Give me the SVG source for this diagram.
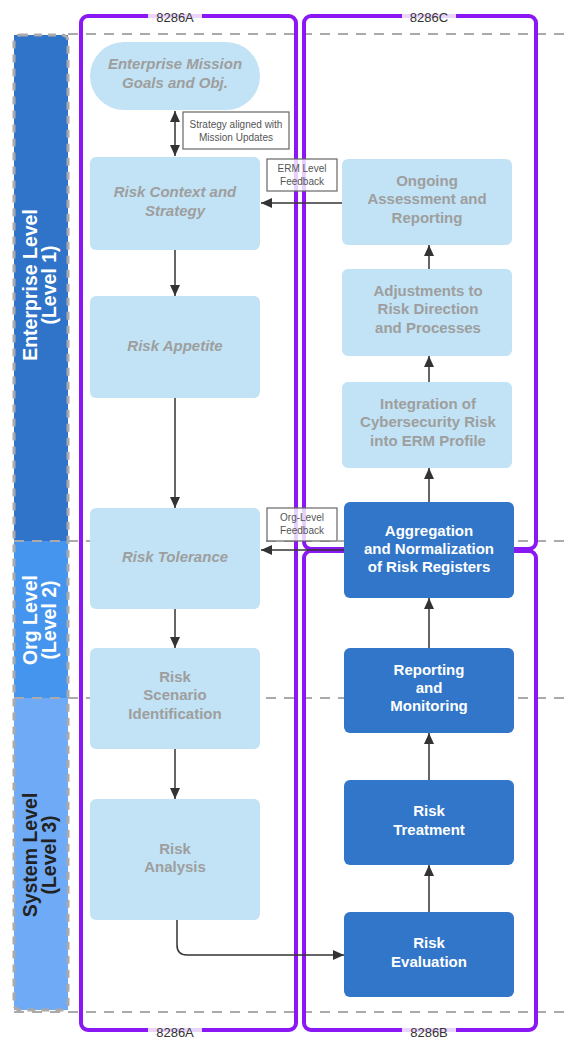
<svg xmlns="http://www.w3.org/2000/svg" width="566" height="1040" viewBox="0 0 566 1040">
<style>
text{font-family:"Liberation Sans",Arial,sans-serif}
.lt{fill:#c1e3f5}
.dk{fill:#3176c8}
.gt{fill:#9e9e9e;font-size:15px;font-weight:bold;text-anchor:middle}
.it{font-style:italic}
.wt{fill:#ffffff;font-size:15px;font-weight:bold;text-anchor:middle}
.lbl{fill:#555;font-size:10px;text-anchor:middle}
.lblbox{fill:#fff;fill-opacity:0.8;stroke:#666;stroke-width:1.2}
.cont{fill:none;stroke:#8a18f5;stroke-width:4}
.ctag{fill:#fff;fill-opacity:0.82}
.ctxt{fill:#333;font-size:13px;text-anchor:middle}
.sep{stroke:#aaa;stroke-width:2;stroke-dasharray:10,8;fill:none}
.edge{stroke:#333;stroke-width:1.5;fill:none}
.lvl{font-size:19.5px;font-weight:bold;text-anchor:middle}
</style>
<defs>
<marker id="ah" viewBox="0 0 10 10" refX="10" refY="5" markerWidth="11" markerHeight="10" orient="auto-start-reverse" markerUnits="userSpaceOnUse" preserveAspectRatio="none">
<path d="M0,0 L10,5 L0,10 z" fill="#333"/>
</marker>
</defs>
<g id="levels">
<rect x="14" y="35" width="54" height="506" fill="#2f74c8"/>
<rect x="14" y="541" width="54" height="157" fill="#4595ef"/>
<rect x="14" y="698" width="54" height="312" fill="#6eaaf6"/>
<rect x="14" y="35" width="54" height="975" rx="6" fill="none" stroke="#aaa" stroke-width="3" stroke-dasharray="8,6"/>
<path class="sep" d="M68 34 H566 M14 541 H566 M14 698 H566 M14 1012 H566"/>
<text class="lvl" fill="#fff" transform="translate(40,285) rotate(-90)"><tspan x="0" y="-3">Enterprise Level</tspan><tspan x="0" y="16">(Level 1)</tspan></text>
<text class="lvl" fill="#fff" transform="translate(40,620) rotate(-90)"><tspan x="0" y="-3">Org Level</tspan><tspan x="0" y="16">(Level 2)</tspan></text>
<text class="lvl" fill="#222" transform="translate(40,855) rotate(-90)"><tspan x="0" y="-3">System Level</tspan><tspan x="0" y="16">(Level 3)</tspan></text>
</g>
<g id="containers">
<rect class="cont" x="81" y="16" width="215" height="1014" rx="7"/>
<rect class="cont" x="304" y="16" width="232" height="533" rx="7"/>
<rect class="cont" x="304" y="551" width="232" height="479" rx="7"/>
<rect class="ctag" x="148" y="8" width="54" height="17" rx="3"/><text class="ctxt" x="175" y="22">8286A</text>
<rect class="ctag" x="402" y="8" width="54" height="17" rx="3"/><text class="ctxt" x="429" y="22">8286C</text>
<rect class="ctag" x="148" y="1024" width="54" height="17" rx="3"/><text class="ctxt" x="175" y="1037">8286A</text>
<rect class="ctag" x="402" y="1024" width="54" height="17" rx="3"/><text class="ctxt" x="429" y="1037">8286B</text>
</g>
<g id="connectors">
<path class="edge" d="M175 111 V156" marker-start="url(#ah)" marker-end="url(#ah)"/>
<path class="edge" d="M175 250 V296" marker-end="url(#ah)"/>
<path class="edge" d="M175 398 V508" marker-end="url(#ah)"/>
<path class="edge" d="M175 609 V648" marker-end="url(#ah)"/>
<path class="edge" d="M175 749 V799" marker-end="url(#ah)"/>
<path class="edge" d="M177 920 V945 Q177 955 187 955 H344" marker-end="url(#ah)"/>
<path class="edge" d="M429 912 V865" marker-end="url(#ah)"/>
<path class="edge" d="M429 780 V733" marker-end="url(#ah)"/>
<path class="edge" d="M429 648 V598" marker-end="url(#ah)"/>
<path class="edge" d="M429 502 V468" marker-end="url(#ah)"/>
<path class="edge" d="M429 382 V356" marker-end="url(#ah)"/>
<path class="edge" d="M429 269 V245" marker-end="url(#ah)"/>
<path class="edge" d="M342 203 H261" marker-end="url(#ah)"/>
<path class="edge" d="M344 550 H261" marker-end="url(#ah)"/>
<rect class="lblbox" x="183" y="112" width="106" height="37"/>
<text class="lbl"><tspan x="236" y="128">Strategy aligned with</tspan><tspan x="236" y="141">Mission Updates</tspan></text>
<rect class="lblbox" x="267" y="159" width="70" height="32"/>
<text class="lbl"><tspan x="302" y="172">ERM Level</tspan><tspan x="302" y="185">Feedback</tspan></text>
<rect class="lblbox" x="267" y="508" width="70" height="33"/>
<text class="lbl"><tspan x="302" y="521">Org-Level</tspan><tspan x="302" y="534">Feedback</tspan></text>
</g>
<g id="n-mission"><rect class="lt" x="90" y="42" width="170" height="68" rx="34"/><text class="gt it"><tspan x="175" y="69">Enterprise Mission</tspan><tspan x="175" y="88">Goals and Obj.</tspan></text></g>
<g id="n-context"><rect class="lt" x="90" y="157" width="170" height="93" rx="6"/><text class="gt it"><tspan x="175" y="197">Risk Context and</tspan><tspan x="175" y="216">Strategy</tspan></text></g>
<g id="n-appetite"><rect class="lt" x="90" y="296" width="170" height="102" rx="6"/><text class="gt it" x="175" y="351">Risk Appetite</text></g>
<g id="n-tolerance"><rect class="lt" x="90" y="508" width="170" height="101" rx="6"/><text class="gt it" x="175" y="562">Risk Tolerance</text></g>
<g id="n-scenario"><rect class="lt" x="90" y="648" width="170" height="101" rx="6"/><text class="gt"><tspan x="175" y="682">Risk</tspan><tspan x="175" y="700">Scenario</tspan><tspan x="175" y="719">Identification</tspan></text></g>
<g id="n-analysis"><rect class="lt" x="90" y="799" width="170" height="121" rx="6"/><text class="gt"><tspan x="175" y="854">Risk</tspan><tspan x="175" y="872">Analysis</tspan></text></g>
<g id="n-ongoing"><rect class="lt" x="342" y="159" width="170" height="86" rx="6"/><text class="gt"><tspan x="427" y="186">Ongoing</tspan><tspan x="427" y="204">Assessment and</tspan><tspan x="427" y="223">Reporting</tspan></text></g>
<g id="n-adjust"><rect class="lt" x="342" y="269" width="170" height="87" rx="6"/><text class="gt"><tspan x="428" y="296">Adjustments to</tspan><tspan x="428" y="314">Risk Direction</tspan><tspan x="428" y="333">and Processes</tspan></text></g>
<g id="n-integration"><rect class="lt" x="342" y="382" width="170" height="86" rx="6"/><text class="gt"><tspan x="428" y="409">Integration of</tspan><tspan x="428" y="427">Cybersecurity Risk</tspan><tspan x="428" y="446">into ERM Profile</tspan></text></g>
<g id="n-aggregation"><rect class="dk" x="344" y="502" width="170" height="96" rx="6"/><text class="wt"><tspan x="429" y="536">Aggregation</tspan><tspan x="429" y="554">and Normalization</tspan><tspan x="429" y="572">of Risk Registers</tspan></text></g>
<g id="n-reporting"><rect class="dk" x="344" y="648" width="170" height="85" rx="6"/><text class="wt"><tspan x="429" y="675">Reporting</tspan><tspan x="429" y="693">and</tspan><tspan x="429" y="711">Monitoring</tspan></text></g>
<g id="n-treatment"><rect class="dk" x="344" y="780" width="170" height="85" rx="6"/><text class="wt"><tspan x="429" y="816">Risk</tspan><tspan x="429" y="835">Treatment</tspan></text></g>
<g id="n-evaluation"><rect class="dk" x="344" y="912" width="170" height="85" rx="6"/><text class="wt"><tspan x="429" y="948">Risk</tspan><tspan x="429" y="967">Evaluation</tspan></text></g>
</svg>
